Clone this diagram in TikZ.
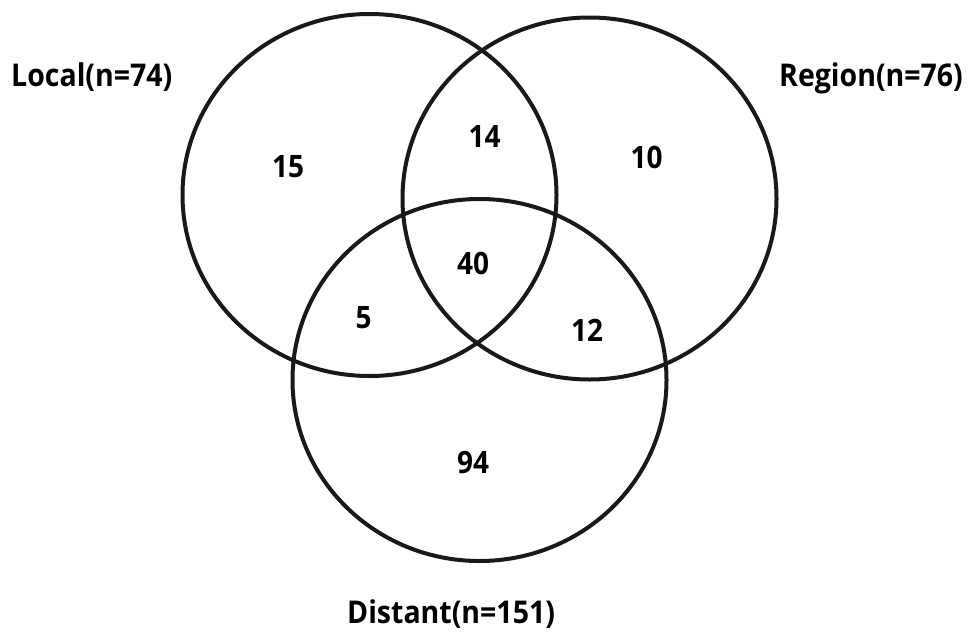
\documentclass[tikz,border=0pt]{standalone}
\usepackage{fontspec}
\setmainfont{Open Sans}
\usetikzlibrary{shapes.geometric}
\newcommand{\tallt}[1]{\scalebox{1}[1.1]{#1}}
\begin{document}
\begin{tikzpicture}[x=1pt,y=-1pt,
  setring/.style={ellipse,draw=black!90,line width=4pt,inner sep=0pt,minimum width=374pt,minimum height=362pt},
  lab/.style={font=\bfseries\fontsize{28.5}{30}\selectfont,inner sep=0pt,anchor=base west},
  num/.style={font=\bfseries\fontsize{28}{30}\selectfont,inner sep=0pt}]
\useasboundingbox (0,0) rectangle (968,632);
\fill[white] (0,0) rectangle (968,632);
\node[setring] (local) at (369.5,195) {};
\node[setring] (region) at (589.5,198.5) {};
\node[setring] (distant) at (479.5,380) {};
\node[lab] (llocal) at (11,86) {\tallt{Local(n=74)}};
\node[lab] (lregion) at (779,86) {\tallt{Region(n=76)}};
\node[lab] (ldistant) at (347,623) {\tallt{Distant(n=151)}};
\node[num] (n15) at (288,167) {\tallt{15}};
\node[num] (n14) at (484.5,136.5) {\tallt{14}};
\node[num] (n10) at (646.5,157) {\tallt{10}};
\node[num] (n40) at (473,263) {\tallt{40}};
\node[num] (n5) at (363.5,318) {\tallt{5}};
\node[num] (n12) at (587,330) {\tallt{12}};
\node[num] (n94) at (473,463) {\tallt{94}};
\end{tikzpicture}
\end{document}
